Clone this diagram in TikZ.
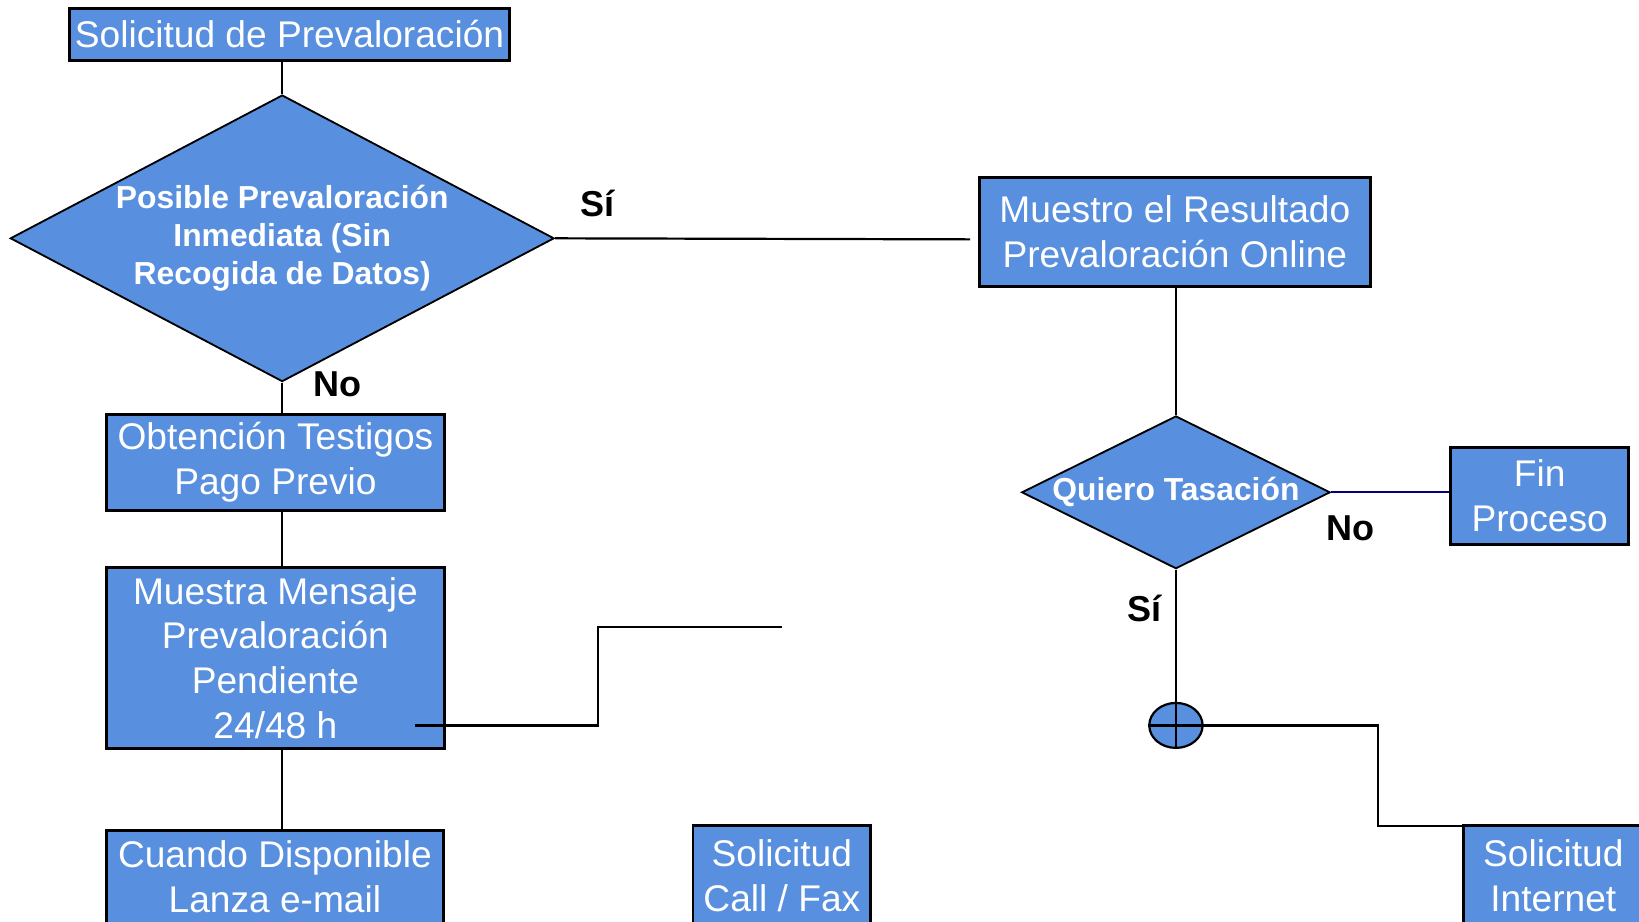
\documentclass[tikz,border=0pt]{standalone}
\usepackage{fontspec}
\setmainfont{Liberation Sans}
\usetikzlibrary{shapes.geometric}
\definecolor{boxblue}{RGB}{88,143,222}
\definecolor{linknavy}{RGB}{0,0,128}
\tikzset{
  box/.style={draw=black, line width=0.8pt, fill=boxblue, text=white, align=center, inner sep=0pt, font=\fontsize{10.1}{12.2}\selectfont},
  decision/.style={diamond, draw=black, line width=0.5pt, fill=boxblue, text=white, align=center, inner sep=0pt, font=\bfseries\fontsize{8.66}{10.4}\selectfont},
  answer/.style={font=\bfseries\fontsize{9.8}{12}\selectfont},
  link/.style={line width=0.6pt}
}
\begin{document}
\begin{tikzpicture}[x=0.01cm, y=-0.01cm]
	\useasboundingbox (0,0) rectangle (1568,882);
	\fill [white] (0,0) rectangle (1568,882);
	\clip (0,0) rectangle (1568,882);
	% Left column
	\node [box, minimum width=4.20cm, minimum height=0.50cm] (solicitud) at (277,33) {Solicitud de Prevaloración};
	\node [decision, aspect=1.9, minimum width=5.20cm, minimum height=2.74cm] (posible) at (270,228) {Posible Prevaloración\\Inmediata (Sin\\Recogida de Datos)};
	\node [box, minimum width=3.23cm, minimum height=0.91cm] (obtencion) at (263.5,442.5) {Obtención Testigos\\Pago Previo};
	\node [box, minimum width=3.23cm, minimum height=1.73cm] (muestra) at (263.5,629.5) {Muestra Mensaje\\Prevaloración\\Pendiente\\24/48 h};
	\node [box, minimum width=3.22cm, minimum height=0.88cm] (cuando) at (263,839) {Cuando Disponible\\Lanza e-mail};
	\node [box, minimum width=1.70cm, minimum height=0.96cm] (callfax) at (748,838) {Solicitud\\Call / Fax};
	% Right column
	\node [box, minimum width=3.74cm, minimum height=1.04cm] (muestro) at (1124,222) {Muestro el Resultado\\Prevaloración Online};
	\node [decision, aspect=2.02, minimum width=2.95cm, minimum height=1.46cm] (quiero) at (1125,471) {Quiero Tasación};
	\node [box, minimum width=1.70cm, minimum height=0.93cm] (fin) at (1473,474.5) {Fin\\Proceso};
	\node [draw=black, line width=0.6pt, fill=boxblue, ellipse, inner sep=0pt, minimum width=0.51cm, minimum height=0.43cm] (union) at (1125,694) {};
	\node [box, minimum width=1.72cm, minimum height=0.96cm] (internet) at (1486,838) {Solicitud\\Internet};
	% Answers
	\node [answer] (si1) at (572,195) {Sí};
	\node [answer] (no1) at (323,368) {No};
	\node [answer] (no2) at (1292,505) {No};
	\node [answer] (si2) at (1095,582) {Sí};
	% Connectors
	\coordinate (sientry) at (928,229);
	\coordinate (m1) at (397,694);
	\coordinate (m2) at (748,600);
	\coordinate (turn) at (1318,790);
	\draw [link] (posible.north) -- (posible.north |- solicitud.south);
	\draw [link] (posible.south) -- (posible.south |- obtencion.north);
	\draw [link] (posible.south |- obtencion.south) -- (posible.south |- muestra.north);
	\draw [link] (posible.south |- muestra.south) -- (posible.south |- cuando.north);
	\draw [link] (posible.east) -- (sientry);
	\draw [link] (m1) -- (572,694) -- (572,600) -- (m2);
	\draw [link] (muestro.south -| quiero.north) -- (quiero.north);
	\draw [link, linknavy] (quiero.east) -- (quiero.east -| fin.west);
	\draw [link] (quiero.south) -- (union.north);
	\draw [link] (union.north) -- (union.south);
	\draw [link] (union.west) -- (union.east);
	\draw [link] (union.east) -| (turn) -- (turn -| internet.east);
\end{tikzpicture}
\end{document}
